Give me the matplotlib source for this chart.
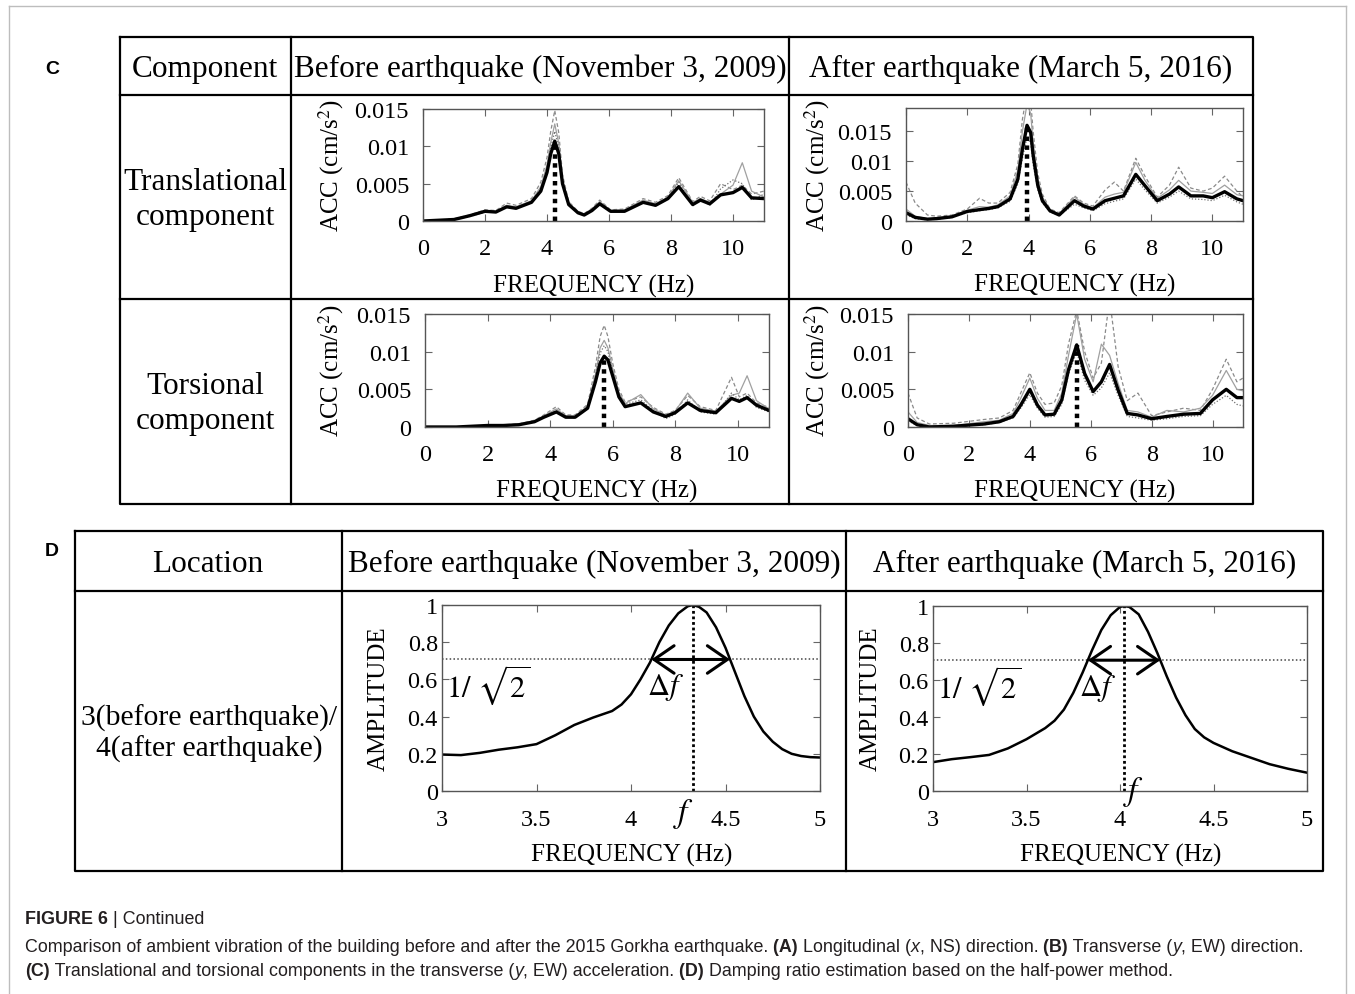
import matplotlib.pyplot as plt
import numpy as np

W, H = 1355, 995

# ---- (C) Fourier spectra, translational / torsional, before / after ----
# before earthquake, translational
f_c1 = [0, 0.5, 1.0, 1.5, 2.0, 2.35, 2.7, 3.0, 3.5, 3.8, 4.0, 4.12, 4.25, 4.38, 4.5, 4.7,
        5.0, 5.2, 5.45, 5.7, 6.05, 6.5, 7.1, 7.5, 7.9, 8.25, 8.7, 8.95, 9.25, 9.6, 10.0,
        10.3, 10.6, 11.0]
mean_c1 = [0.0, 0.0001, 0.0002, 0.0007, 0.0013, 0.0012, 0.0019, 0.0017, 0.0025, 0.0040,
           0.0065, 0.0090, 0.0107, 0.0090, 0.0050, 0.0022, 0.0011, 0.0008, 0.0014, 0.0023,
           0.0013, 0.0013, 0.0025, 0.0021, 0.0030, 0.0046, 0.0022, 0.0028, 0.0023, 0.0035,
           0.0038, 0.0045, 0.0031, 0.0030]
grey_c1 = [
    [0.0, 0.0001, 0.0003, 0.0008, 0.0015, 0.0014, 0.0024, 0.0021, 0.0030, 0.0052, 0.0085,
     0.0120, 0.0148, 0.0118, 0.0062, 0.0026, 0.0013, 0.0010, 0.0017, 0.0028, 0.0015, 0.0016,
     0.0030, 0.0025, 0.0034, 0.0058, 0.0026, 0.0033, 0.0027, 0.0050, 0.0042, 0.0048, 0.0036,
     0.0040],
    [0.0, 0.0001, 0.0002, 0.0007, 0.0014, 0.0013, 0.0021, 0.0019, 0.0027, 0.0046, 0.0075,
     0.0105, 0.0130, 0.0104, 0.0056, 0.0024, 0.0012, 0.0009, 0.0016, 0.0026, 0.0014, 0.0015,
     0.0028, 0.0023, 0.0032, 0.0054, 0.0025, 0.0030, 0.0025, 0.0036, 0.0048, 0.0078, 0.0040,
     0.0032],
    [0.0, 0.0001, 0.0002, 0.0006, 0.0012, 0.0013, 0.0020, 0.0018, 0.0026, 0.0043, 0.0070,
     0.0098, 0.0120, 0.0098, 0.0054, 0.0023, 0.0010, 0.0008, 0.0015, 0.0025, 0.0012, 0.0014,
     0.0026, 0.0020, 0.0031, 0.0052, 0.0020, 0.0030, 0.0021, 0.0043, 0.0055, 0.0050, 0.0028,
     0.0036],
]

# after earthquake, translational
f_c2 = [0, 0.3, 0.7, 1.0, 1.5, 2.0, 2.4, 2.7, 3.0, 3.4, 3.65, 3.8, 3.95, 4.07, 4.15, 4.3,
        4.45, 4.7, 5.0, 5.5, 5.8, 6.1, 6.5, 6.8, 7.1, 7.5, 7.8, 8.2, 8.6, 8.9, 9.3, 9.7,
        10.0, 10.4, 10.8, 11.0]
mean_c2 = [0.0014, 0.0006, 0.0003, 0.0004, 0.0007, 0.0016, 0.0019, 0.0021, 0.0024, 0.0037,
           0.0070, 0.0120, 0.0160, 0.0148, 0.0110, 0.0060, 0.0034, 0.0017, 0.0010, 0.0034,
           0.0025, 0.0020, 0.0034, 0.0038, 0.0042, 0.0078, 0.0059, 0.0034, 0.0045, 0.0057,
           0.0042, 0.0042, 0.0039, 0.0049, 0.0037, 0.0034]
grey_c2 = [
    [0.0065, 0.0030, 0.0010, 0.0008, 0.0010, 0.0020, 0.0038, 0.0030, 0.0030, 0.0048, 0.0095,
     0.0170, 0.0215, 0.0200, 0.0150, 0.0080, 0.0045, 0.0020, 0.0014, 0.0042, 0.0030, 0.0025,
     0.0052, 0.0065, 0.0050, 0.0105, 0.0075, 0.0040, 0.0060, 0.0090, 0.0055, 0.0050, 0.0055,
     0.0075, 0.0050, 0.0040],
    [0.0020, 0.0008, 0.0004, 0.0005, 0.0008, 0.0018, 0.0024, 0.0023, 0.0027, 0.0042, 0.0085,
     0.0150, 0.0195, 0.0180, 0.0130, 0.0070, 0.0040, 0.0019, 0.0012, 0.0040, 0.0028, 0.0022,
     0.0040, 0.0045, 0.0048, 0.0098, 0.0068, 0.0038, 0.0052, 0.0068, 0.0050, 0.0048, 0.0046,
     0.0060, 0.0044, 0.0042],
    [0.0010, 0.0004, 0.0002, 0.0003, 0.0006, 0.0014, 0.0017, 0.0019, 0.0022, 0.0033, 0.0062,
     0.0105, 0.0140, 0.0130, 0.0095, 0.0052, 0.0030, 0.0015, 0.0009, 0.0028, 0.0022, 0.0017,
     0.0029, 0.0033, 0.0037, 0.0070, 0.0052, 0.0030, 0.0040, 0.0050, 0.0037, 0.0036, 0.0034,
     0.0043, 0.0032, 0.0028],
]

# before earthquake, torsional
f_c3 = [0, 1.0, 1.5, 2.0, 2.5, 3.0, 3.5, 3.8, 4.2, 4.5, 4.8, 5.2, 5.45, 5.6, 5.73, 5.85,
        6.0, 6.2, 6.4, 6.9, 7.3, 7.7, 8.0, 8.4, 8.8, 9.3, 9.8, 10.05, 10.3, 10.6, 11.0]
mean_c3 = [0.0, 0.0, 0.0001, 0.0002, 0.0002, 0.0003, 0.0007, 0.0013, 0.0020, 0.0013, 0.0013,
           0.0025, 0.0060, 0.0085, 0.0094, 0.0089, 0.0068, 0.0040, 0.0027, 0.0032, 0.0020,
           0.0014, 0.0019, 0.0032, 0.0022, 0.0019, 0.0038, 0.0034, 0.0039, 0.0029, 0.0022]
grey_c3 = [
    [0.0, 0.0, 0.0001, 0.0002, 0.0003, 0.0004, 0.0009, 0.0016, 0.0027, 0.0016, 0.0016, 0.0030,
     0.0080, 0.0120, 0.0135, 0.0120, 0.0085, 0.0050, 0.0033, 0.0040, 0.0026, 0.0017, 0.0022,
     0.0042, 0.0027, 0.0022, 0.0066, 0.0040, 0.0045, 0.0032, 0.0026],
    [0.0, 0.0, 0.0001, 0.0002, 0.0002, 0.0004, 0.0008, 0.0015, 0.0024, 0.0015, 0.0014, 0.0028,
     0.0070, 0.0105, 0.0115, 0.0105, 0.0078, 0.0046, 0.0031, 0.0043, 0.0024, 0.0016, 0.0021,
     0.0045, 0.0025, 0.0021, 0.0042, 0.0045, 0.0068, 0.0035, 0.0024],
    [0.0, 0.0, 0.0001, 0.0001, 0.0002, 0.0003, 0.0007, 0.0014, 0.0022, 0.0014, 0.0012, 0.0026,
     0.0068, 0.0098, 0.0108, 0.0100, 0.0072, 0.0042, 0.0030, 0.0036, 0.0022, 0.0011, 0.0017,
     0.0036, 0.0020, 0.0017, 0.0045, 0.0036, 0.0042, 0.0026, 0.0020],
]

# after earthquake, torsional
f_c4 = [0, 0.3, 0.7, 1.5, 2.5, 3.0, 3.45, 3.7, 4.0, 4.25, 4.5, 4.8, 5.05, 5.27, 5.54, 5.8,
        6.08, 6.35, 6.62, 6.9, 7.2, 7.55, 8.0, 8.5, 9.05, 9.6, 10.0, 10.45, 10.8, 11.0]
mean_c4 = [0.0011, 0.0003, 0.0000, 0.0001, 0.0004, 0.0007, 0.0014, 0.0029, 0.0050, 0.0029,
           0.0016, 0.0017, 0.0036, 0.0076, 0.0109, 0.0071, 0.0047, 0.0060, 0.0083, 0.0049,
           0.0018, 0.0016, 0.0011, 0.0014, 0.0017, 0.0018, 0.0036, 0.0050, 0.0039, 0.0039]
grey_c4 = [
    [0.0045, 0.0012, 0.0004, 0.0005, 0.0010, 0.0012, 0.0022, 0.0045, 0.0072, 0.0045, 0.0030,
     0.0032, 0.0055, 0.0110, 0.0155, 0.0100, 0.0065, 0.0085, 0.0170, 0.0080, 0.0035, 0.0045,
     0.0015, 0.0020, 0.0025, 0.0022, 0.0050, 0.0090, 0.0060, 0.0065],
    [0.0020, 0.0006, 0.0002, 0.0002, 0.0007, 0.0009, 0.0018, 0.0038, 0.0065, 0.0038, 0.0022,
     0.0022, 0.0045, 0.0095, 0.0150, 0.0090, 0.0060, 0.0110, 0.0095, 0.0058, 0.0022, 0.0020,
     0.0013, 0.0022, 0.0020, 0.0025, 0.0042, 0.0075, 0.0050, 0.0048],
    [0.0008, 0.0002, 0.0000, 0.0001, 0.0003, 0.0006, 0.0012, 0.0025, 0.0043, 0.0025, 0.0013,
     0.0014, 0.0030, 0.0070, 0.0100, 0.0062, 0.0042, 0.0052, 0.0072, 0.0042, 0.0014, 0.0012,
     0.0009, 0.0011, 0.0014, 0.0015, 0.0030, 0.0042, 0.0030, 0.0028],
]

c_xticks = [0, 2, 4, 6, 8, 10]
c_yticks = [0, 0.005, 0.01, 0.015]
c_yticklabels = ['0', '0.005', '0.01', '0.015']

# ---- (D) half-power method ----
f_d1 = [3.0, 3.1, 3.2, 3.3, 3.4, 3.5, 3.6, 3.7, 3.8, 3.9, 3.95, 4.0, 4.05, 4.1, 4.15, 4.2,
        4.25, 4.3, 4.327, 4.36, 4.4, 4.45, 4.5, 4.55, 4.6, 4.65, 4.7, 4.75, 4.8, 4.85, 4.9,
        4.95, 5.0]
amp_d1 = [0.196, 0.193, 0.205, 0.222, 0.235, 0.252, 0.30, 0.355, 0.395, 0.43, 0.465, 0.52,
          0.60, 0.69, 0.80, 0.89, 0.955, 0.993, 1.0, 0.99, 0.96, 0.88, 0.77, 0.64, 0.51,
          0.40, 0.32, 0.265, 0.225, 0.20, 0.188, 0.182, 0.18]
f_d2 = [3.0, 3.1, 3.2, 3.3, 3.4, 3.5, 3.6, 3.65, 3.7, 3.75, 3.8, 3.85, 3.9, 3.95, 4.0, 4.023,
        4.05, 4.1, 4.15, 4.2, 4.25, 4.3, 4.35, 4.4, 4.45, 4.5, 4.6, 4.7, 4.8, 4.9, 5.0]
amp_d2 = [0.156, 0.172, 0.183, 0.195, 0.23, 0.28, 0.34, 0.38, 0.44, 0.53, 0.64, 0.76, 0.87,
          0.95, 0.995, 1.0, 0.995, 0.955, 0.86, 0.745, 0.62, 0.505, 0.41, 0.335, 0.29, 0.26,
          0.215, 0.18, 0.145, 0.12, 0.099]
d_xticks = [3, 3.5, 4, 4.5, 5]
d_xticklabels = ['3', '3.5', '4', '4.5', '5']
d_yticks = [0, 0.2, 0.4, 0.6, 0.8, 1.0]
d_yticklabels = ['0', '0.2', '0.4', '0.6', '0.8', '1']
half_power = 1 / np.sqrt(2)

grey_styles = [((0, (3, 2)), '#8a8a8a'), ('-', '#a0a0a0'), ((0, (1, 1.5)), '#707070')]

plt.rcParams['font.family'] = 'Liberation Serif'
plt.rcParams['mathtext.fontset'] = 'stix'

fig = plt.figure(figsize=(W / 100, H / 100), dpi=100)
bg = fig.add_axes([0, 0, 1, 1])
bg.set_xlim(0, W)
bg.set_ylim(H, 0)
bg.axis('off')


def box(x0, y0, x1, y1):
    return [x0 / W, 1 - y1 / H, (x1 - x0) / W, (y1 - y0) / H]


def line(xs, ys, color='black', lw=1.6):
    bg.plot(xs, ys, color=color, lw=lw, solid_capstyle='projecting')


# light outer frame
line([9, 9], [7, H], color='#bdbdbd', lw=1)
line([9, 1346], [7, 7], color='#bdbdbd', lw=1)
line([1346, 1346], [7, H], color='#bdbdbd', lw=1)

# table C
line([120, 1253, 1253, 120, 120], [38, 38, 505, 505, 38])
line([120, 1253], [96, 96])
line([120, 1253], [300, 300])
line([291, 291], [38, 505])
line([789, 789], [38, 505])
# table D
line([75, 1323, 1323, 75, 75], [532, 532, 872, 872, 532])
line([75, 1323], [592, 592])
line([342, 342], [532, 872])
line([846, 846], [532, 872])

tsz = 22.5
bg.text(52, 70, 'C', family='Liberation Sans', fontweight='bold', fontsize=14,
        ha='center', va='center')
bg.text(52, 551, 'D', family='Liberation Sans', fontweight='bold', fontsize=14,
        ha='center', va='center')
bg.text(205, 69, 'Component', fontsize=tsz, ha='center', va='center')
bg.text(540, 69, 'Before earthquake (November 3, 2009)', fontsize=tsz, ha='center', va='center')
bg.text(1021, 69, 'After earthquake (March 5, 2016)', fontsize=tsz, ha='center', va='center')
bg.text(205, 200, 'Translational\ncomponent', fontsize=tsz, ha='center', va='center',
        linespacing=1.25)
bg.text(205, 404, 'Torsional\ncomponent', fontsize=tsz, ha='center', va='center',
        linespacing=1.25)
bg.text(208, 564, 'Location', fontsize=tsz, ha='center', va='center')
bg.text(594, 564, 'Before earthquake (November 3, 2009)', fontsize=tsz, ha='center', va='center')
bg.text(1085, 564, 'After earthquake (March 5, 2016)', fontsize=tsz, ha='center', va='center')
bg.text(209, 734, '3(before earthquake)/\n4(after earthquake)', fontsize=21.3, ha='center',
        va='center', linespacing=1.15)


def style_axes(ax, rect, xl_c, yl_c, ylabel, xpad, ypad):
    x0, y0, x1, y1 = rect
    for s in ax.spines.values():
        s.set_color('#555555')
        s.set_linewidth(1.0)
    ax.tick_params(direction='in', top=True, right=True, length=5, width=0.8,
                   color='#666666', labelsize=17.5)
    ax.tick_params(axis='x', pad=xpad)
    ax.tick_params(axis='y', pad=ypad)
    ax.set_xlabel('FREQUENCY (Hz)', fontsize=18)
    ax.set_ylabel(ylabel, fontsize=18)
    ax.xaxis.set_label_coords((xl_c[0] - x0) / (x1 - x0), (y1 - xl_c[1]) / (y1 - y0))
    ax.xaxis.label.set_va('center')
    ax.yaxis.set_label_coords((yl_c[0] - x0) / (x1 - x0), (y1 - yl_c[1]) / (y1 - y0))
    ax.yaxis.label.set_va('center')


def spectrum_panel(rect, freq, mean, greys, ytop, xl_c, yl_c):
    ax = fig.add_axes(box(*rect))
    for g, (ls, c) in zip(greys, grey_styles):
        ax.plot(freq, g, color=c, lw=0.9, ls=ls)
    ax.plot(freq, mean, color='black', lw=2.4)
    i = int(np.argmax(mean))
    ax.plot([freq[i], freq[i]], [0, mean[i]], color='black', lw=3.2, ls=(0, (1, 1)))
    ax.set_xlim(0, 11)
    ax.set_ylim(0, ytop)
    ax.set_xticks(c_xticks)
    ax.set_yticks(c_yticks)
    ax.set_yticklabels(c_yticklabels)
    style_axes(ax, rect, xl_c, yl_c, 'ACC (cm/s$^2$)', 12, 10)
    return ax


spectrum_panel((423, 110, 764, 222), f_c1, mean_c1, grey_c1, 0.015, (594, 286), (331, 166))
spectrum_panel((906, 109, 1243, 222), f_c2, mean_c2, grey_c2, 0.0189, (1075, 285), (817, 166))
spectrum_panel((425, 315, 769, 428), f_c3, mean_c3, grey_c3, 0.015, (597, 491), (331, 371))
spectrum_panel((908, 315, 1243, 428), f_c4, mean_c4, grey_c4, 0.015, (1075, 491), (817, 371))


def damping_panel(rect, freq, amp, xl_c, yl_c, f_label_off):
    ax = fig.add_axes(box(*rect))
    freq = np.asarray(freq)
    amp = np.asarray(amp)
    i = int(np.argmax(amp))
    fp = freq[i]
    # half-power crossings on each side of the peak
    f_lo = np.interp(half_power, amp[:i + 1], freq[:i + 1])
    f_hi = np.interp(half_power, amp[i:][::-1], freq[i:][::-1])
    ax.axhline(half_power, color='#444444', lw=1.1, ls=(0, (1, 1.5)))
    ax.axhline(1.0, color='#333333', lw=1.3, ls=(0, (1, 1.5)))
    ax.plot([fp, fp], [0, 1], color='black', lw=2.0, ls=(0, (1, 1)))
    ax.plot(freq, amp, color='black', lw=1.8)
    ax.annotate('', xy=(f_lo, half_power), xytext=(f_hi, half_power),
                arrowprops=dict(arrowstyle='<->,head_length=0.8,head_width=0.55',
                                mutation_scale=18, lw=2.2, color='black',
                                shrinkA=0, shrinkB=0))
    ax.text(3.02, 0.575, r'$1/\ \sqrt{2}$', fontsize=22, ha='left', va='center')
    ax.text(fp - 0.045, 0.56, r'$\Delta f$', fontsize=22, ha='right', va='center')
    ax.text(fp + f_label_off[0], f_label_off[1], r'$f$', fontsize=24, ha='center',
            va='center', clip_on=False)
    ax.set_xlim(3, 5)
    ax.set_ylim(0, 1)
    ax.set_xticks(d_xticks)
    ax.set_xticklabels(d_xticklabels)
    ax.set_yticks(d_yticks)
    ax.set_yticklabels(d_yticklabels)
    style_axes(ax, rect, xl_c, yl_c, 'AMPLITUDE', 13, 3)
    return ax


damping_panel((442, 606, 820, 792), f_d1, amp_d1, (632, 855), (379, 699), (-0.05, -0.12))
damping_panel((933, 607, 1307, 792), f_d2, amp_d2, (1121, 855), (871, 699), (0.05, 0.0))


# ---- caption ----
def rich_line(x, y, parts, size):
    prev = None
    for txt, weight, style in parts:
        kw = dict(fontsize=size, fontweight=weight, fontstyle=style,
                  family='Liberation Sans', color='#231f20')
        if prev is None:
            prev = bg.text(x, y, txt, ha='left', va='center', **kw)
        else:
            prev = bg.annotate(txt, xy=(1, 0), xycoords=prev, ha='left', va='bottom', **kw)


cap = 12.9
rich_line(25, 920, [('FIGURE 6', 'bold', 'normal'), (' | Continued', 'normal', 'normal')], cap)
rich_line(25, 948, [
    ('Comparison of ambient vibration of the building before and after the 2015 Gorkha '
     'earthquake.', 'normal', 'normal'),
    (' (A)', 'bold', 'normal'), (' Longitudinal (', 'normal', 'normal'),
    ('x', 'normal', 'italic'), (', NS) direction.', 'normal', 'normal'),
    (' (B)', 'bold', 'normal'), (' Transverse (', 'normal', 'normal'),
    ('y', 'normal', 'italic'), (', EW) direction.', 'normal', 'normal')], cap)
rich_line(25, 971, [
    ('(C)', 'bold', 'normal'),
    (' Translational and torsional components in the transverse (', 'normal', 'normal'),
    ('y', 'normal', 'italic'), (', EW) acceleration.', 'normal', 'normal'),
    (' (D)', 'bold', 'normal'),
    (' Damping ratio estimation based on the half-power method.', 'normal', 'normal')], cap)

fig.savefig('out.png', dpi=100)
